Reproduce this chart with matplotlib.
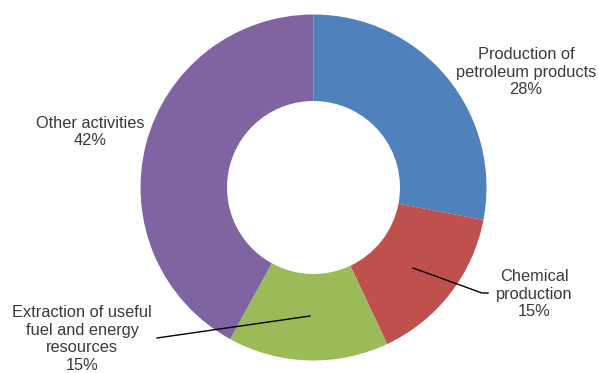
import matplotlib
matplotlib.use("Agg")
import matplotlib.pyplot as plt

plt.rcParams['font.family'] = ['Liberation Sans', 'DejaVu Sans']

labels = ['Production of\npetroleum products\n28%', 'Chemical\nproduction\n15%',
          'Extraction of useful\nfuel and energy\nresources\n15%', 'Other activities\n42%']
shares = [28, 15, 15, 42]
colors = ['#4F81BD', '#C0504D', '#9BBB59', '#8064A2']

W, H = 599, 373
fig = plt.figure(figsize=(W/100, H/100), dpi=100)
ax = fig.add_axes([0, 0, 1, 1])

cx, cy, r = 313.5, H-187.5, 173
ax.pie(shares, colors=colors, startangle=90, counterclock=False, center=(cx, cy), radius=r,
       wedgeprops=dict(width=r*0.5, edgecolor='none'), frame=True)
ax.set_xlim(0, W); ax.set_ylim(0, H); ax.set_aspect('equal'); ax.axis('off')

tc = '#3a3a3a'
fs = 11.8
# label positions in pixel coords (from top)
pos = [(526, 72), (534, 294), (82, 339), (90, 132)]
for lab, (x, y) in zip(labels, pos):
    ax.text(x, H-y, lab, ha='center', va='center', fontsize=fs, color=tc, linespacing=1.22)

# leader lines
ax.plot([413, 482, 488], [H-268, H-293, H-293], color='black', lw=1)
ax.plot([157, 310], [H-338, H-316], color='black', lw=1)

fig.savefig('out.png', dpi=100)
